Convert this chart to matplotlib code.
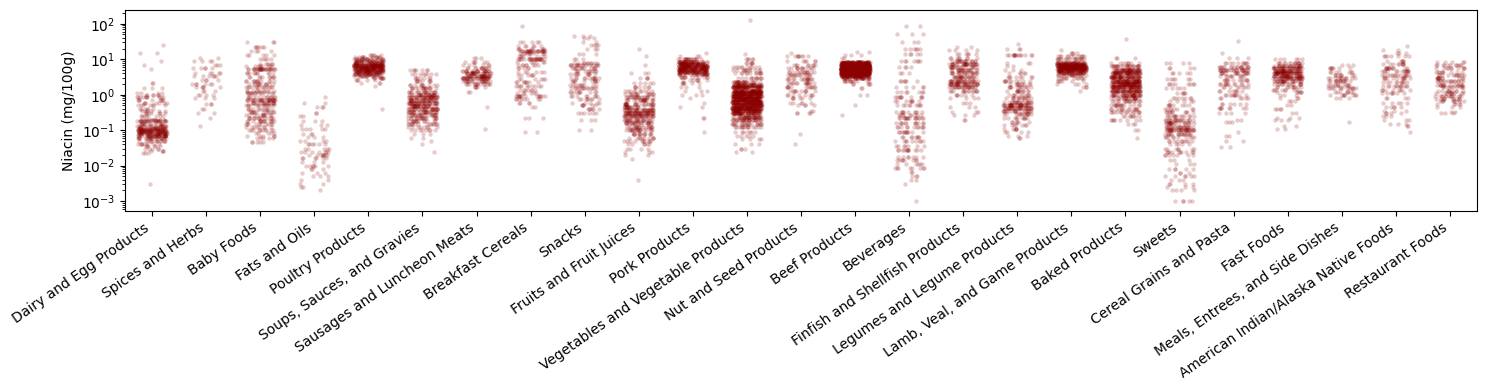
import numpy as np
import pandas as pd
import matplotlib
matplotlib.use('Agg')
import matplotlib.pyplot as plt
import seaborn as sns

dairy_levels = [0.003,0.022,0.026,0.03,0.035,0.04,0.05,0.06,0.07,0.08,0.09,0.1,0.115,0.13,0.15,0.18,0.2,0.25,0.3,0.35,0.4,0.5,0.6,0.7,0.85,1.0,1.1,1.5,2.2,5.2,7,9,15,26]
dairy_counts = [1,3,4,5,6,8,14,20,28,34,38,46,28,16,14,20,16,8,7,6,6,7,7,8,10,6,4,3,2,1,1,1,2,1]
spices_levels = [0.13,0.22,0.3,0.4,0.55,0.8,1.0,1.3,1.6,2,2.6,3.3,4.2,5.5,7,9,11]
spices_counts = [1,1,2,2,3,3,4,3,5,6,4,6,5,5,3,4,2]
baby_levels = [0.045,0.06,0.07,0.085,0.1,0.125,0.15,0.18,0.22,0.27,0.33,0.4,0.5,0.6,0.7,0.85,1.1,1.3,1.6,2,2.5,3.2,4,5.2,6.3,7.5,10,13,17,22,30]
baby_counts = [5,5,5,5,10,8,10,14,14,12,14,12,14,16,30,14,14,12,14,12,12,10,10,30,8,6,5,5,4,6,3]
fats_levels = [0.002,0.0025,0.003,0.004,0.005,0.006,0.008,0.01,0.013,0.016,0.02,0.025,0.03,0.04,0.05,0.065,0.08,0.11,0.14,0.18,0.25,0.3,0.45,0.6,0.85]
fats_counts = [1,2,2,2,3,3,3,6,3,6,8,7,5,6,4,3,3,5,3,3,2,2,3,2,1]
poultry_levels = [0.4,1.8,2.2,2.6,3,3.4,3.9,4.4,5,5.6,6.3,7,8,9,10,11.5,13]
poultry_counts = [1,1,3,5,8,16,28,40,50,55,52,44,32,26,20,12,5]
soups_levels = [0.025,0.04,0.05,0.06,0.08,0.1,0.12,0.15,0.18,0.22,0.27,0.33,0.4,0.48,0.58,0.7,0.85,1.0,1.2,1.5,1.9,2.4,3,3.8,5]
soups_counts = [1,1,1,2,3,8,8,14,14,18,22,26,30,32,36,32,30,24,20,16,10,8,7,8,7]
sausages_levels = [0.11,0.45,1.2,1.6,2,2.4,2.9,3.4,4,4.8,5.8,7,8.5,11]
sausages_counts = [1,1,2,5,14,20,30,30,24,18,12,6,6,3]
cereals_levels = [0.09,0.22,0.45,0.6,0.75,0.9,1.1,1.4,1.8,2.3,2.8,3.5,4.5,5.5,7,8.5,10,12,15,17,20,24,30,88]
cereals_counts = [2,3,2,4,8,14,6,7,10,8,6,6,6,5,8,6,24,8,10,24,8,6,5,1]
snacks_levels = [0.1,0.2,0.3,0.4,0.5,0.6,0.75,0.95,1.2,1.5,1.9,2.4,3,3.8,4.6,5.5,6.7,8,10,14,20,25,30,40,45]
snacks_counts = [2,3,6,6,6,5,8,8,10,14,10,10,12,10,10,12,16,10,3,3,3,4,2,3,3]
fruits_levels = [0.004,0.015,0.02,0.025,0.03,0.04,0.05,0.06,0.08,0.1,0.12,0.16,0.2,0.25,0.3,0.36,0.45,0.55,0.7,0.85,1.05,1.3,1.7,2.2,3,4,7,12,20]
fruits_counts = [1,1,2,3,4,6,10,10,14,20,20,24,26,36,44,34,22,24,20,20,14,10,7,5,4,3,1,1,1]
pork_levels = [0.09,0.22,0.45,0.6,0.8,1.0,1.3,1.7,2.1,2.6,3.2,3.8,4.4,5,5.7,6.5,7.5,8.5,10,12,15]
pork_counts = [1,2,2,1,1,3,3,3,6,7,12,25,42,50,55,55,50,40,18,3,1]
veg_levels = [0.025,0.03,0.04,0.055,0.07,0.09,0.12,0.15,0.19,0.24,0.3,0.36,0.43,0.52,0.62,0.75,0.9,1.1,1.3,1.6,1.9,2.3,3,4,5,6,8,10,14,130]
veg_counts = [2,3,3,4,5,7,14,20,30,40,60,72,80,90,96,100,100,90,76,66,46,28,12,12,12,10,6,5,1,1]
nuts_levels = [0.04,0.08,0.3,0.35,0.5,0.6,0.8,1,1.3,1.7,2.2,2.8,3.5,4.5,5.7,7,9,12,15]
nuts_counts = [1,1,4,2,4,5,6,8,10,12,14,16,14,14,12,8,6,8,1]
beef_levels = [0.27,0.5,1,1.5,2,2.5,3,3.4,3.8,4.2,4.7,5.2,5.8,6.4,7,7.8,8.6,11,13,16]
beef_counts = [1,1,2,2,5,12,30,60,100,130,150,160,150,130,110,80,40,2,3,2]
bev_levels = [0.001,0.003,0.004,0.005,0.0065,0.0085,0.011,0.014,0.018,0.027,0.035,0.05,0.065,0.09,0.12,0.16,0.22,0.27,0.33,0.5,0.65,0.85,1.2,1.7,2.5,4,6,9,14,20,30,50,85]
bev_counts = [1,1,2,3,2,8,6,8,7,12,7,9,8,11,11,12,16,9,10,9,8,10,7,5,6,3,4,7,5,6,3,3,2]
fish_levels = [0.2,0.27,0.33,0.45,0.6,0.8,1.0,1.3,1.6,2,2.5,3.2,4,5,6,7.5,9,11,14,18,22]
fish_counts = [2,3,3,3,3,4,6,14,24,34,30,24,20,20,18,28,18,8,6,4,2]
legumes_levels = [0.06,0.07,0.09,0.11,0.14,0.17,0.22,0.28,0.35,0.43,0.52,0.62,0.8,1,1.3,1.6,2,2.5,3.2,4,5,6.5,8,13.5,20,27]
legumes_counts = [2,3,4,6,7,6,10,14,20,30,36,20,14,10,12,12,10,10,8,5,3,2,3,14,3,1]
lamb_levels = [1.3,1.6,2,2.4,3,3.5,4,4.6,5.2,6,7,8,10,12,15,18]
lamb_counts = [1,3,4,6,12,16,30,45,70,90,80,50,18,12,4,1]
baked_levels = [0.06,0.1,0.15,0.2,0.25,0.32,0.4,0.5,0.65,0.8,1,1.25,1.6,2,2.5,3.2,4,5,6.5,8,11,38]
baked_counts = [1,2,3,8,8,14,14,16,16,22,40,56,64,66,66,60,60,50,25,8,3,1]
sweets_levels = [0.001,0.002,0.0025,0.003,0.004,0.005,0.006,0.008,0.011,0.014,0.02,0.025,0.03,0.04,0.05,0.065,0.08,0.1,0.125,0.16,0.2,0.25,0.32,0.4,0.5,0.65,0.8,1.1,1.5,2,2.8,4,5.5,8]
sweets_counts = [5,4,3,4,3,6,3,5,3,3,7,10,7,5,10,10,18,36,24,22,20,14,10,8,8,5,7,5,5,8,6,5,4,4]
grains_levels = [0.033,0.05,0.07,0.09,0.17,0.2,0.3,0.42,0.55,0.8,1,1.3,1.6,2,2.6,3.3,4,5,6,8,11,15,33]
grains_counts = [2,2,2,1,3,2,4,8,6,6,10,8,8,12,12,10,16,24,18,10,3,1,1]
fastfood_levels = [0.11,0.13,0.2,0.22,0.3,0.4,0.5,0.65,0.8,1,1.2,1.4,1.7,2,2.4,2.9,3.4,4,4.7,5.5,6.5,8,10]
fastfood_counts = [2,2,3,3,2,4,2,3,3,3,6,8,10,14,26,30,35,40,40,30,22,15,6]
meals_levels = [0.17,0.8,1,1.2,1.5,1.9,2.4,3,3.6,4.5,5.5,7]
meals_counts = [1,3,8,8,14,12,14,12,8,7,7,3]
native_levels = [0.09,0.13,0.15,0.2,0.25,0.3,0.35,0.45,0.6,0.8,1.1,1.4,1.8,2.3,2.9,3.7,4.6,5.8,7.3,9,12,15,18,24]
native_counts = [1,2,3,3,3,4,3,5,5,4,7,8,12,10,12,14,14,12,9,5,7,3,2,1]
restaurant_levels = [0.3,0.33,0.45,0.55,0.65,0.75,0.9,1.1,1.3,1.6,1.9,2.4,3,3.7,4.5,5.5,7,8.5]
restaurant_counts = [3,2,3,5,8,10,14,10,10,10,16,16,12,12,9,10,11,5]

groups = [
    ('Dairy and Egg Products', dairy_levels, dairy_counts),
    ('Spices and Herbs', spices_levels, spices_counts),
    ('Baby Foods', baby_levels, baby_counts),
    ('Fats and Oils', fats_levels, fats_counts),
    ('Poultry Products', poultry_levels, poultry_counts),
    ('Soups, Sauces, and Gravies', soups_levels, soups_counts),
    ('Sausages and Luncheon Meats', sausages_levels, sausages_counts),
    ('Breakfast Cereals', cereals_levels, cereals_counts),
    ('Snacks', snacks_levels, snacks_counts),
    ('Fruits and Fruit Juices', fruits_levels, fruits_counts),
    ('Pork Products', pork_levels, pork_counts),
    ('Vegetables and Vegetable Products', veg_levels, veg_counts),
    ('Nut and Seed Products', nuts_levels, nuts_counts),
    ('Beef Products', beef_levels, beef_counts),
    ('Beverages', bev_levels, bev_counts),
    ('Finfish and Shellfish Products', fish_levels, fish_counts),
    ('Legumes and Legume Products', legumes_levels, legumes_counts),
    ('Lamb, Veal, and Game Products', lamb_levels, lamb_counts),
    ('Baked Products', baked_levels, baked_counts),
    ('Sweets', sweets_levels, sweets_counts),
    ('Cereal Grains and Pasta', grains_levels, grains_counts),
    ('Fast Foods', fastfood_levels, fastfood_counts),
    ('Meals, Entrees, and Side Dishes', meals_levels, meals_counts),
    ('American Indian/Alaska Native Foods', native_levels, native_counts),
    ('Restaurant Foods', restaurant_levels, restaurant_counts),
]

rows = []
for name, levels, counts in groups:
    vals = np.repeat(levels, counts)
    rows.append(pd.DataFrame({'group': name, 'niacin': vals}))
df = pd.concat(rows, ignore_index=True)

fig, ax = plt.subplots(figsize=(14.86, 3.9), dpi=100)
sns.stripplot(data=df, x='group', y='niacin', color='darkred', alpha=0.2,
              size=3.2, jitter=0.27, log_scale=True, ax=ax)
ax.set_xlim(-0.5, len(groups) - 0.5)
ax.set_ylim(10 ** -3.28, 10 ** 2.39)
ax.set_xlabel('')
ax.set_ylabel('Niacin (mg/100g)')
plt.setp(ax.get_xticklabels(), rotation=35, ha='right', rotation_mode='default')
fig.subplots_adjust(left=125 / 1486, right=1477 / 1486, top=1 - 10 / 390, bottom=1 - 211 / 390)
fig.savefig('out.png', dpi=100)
